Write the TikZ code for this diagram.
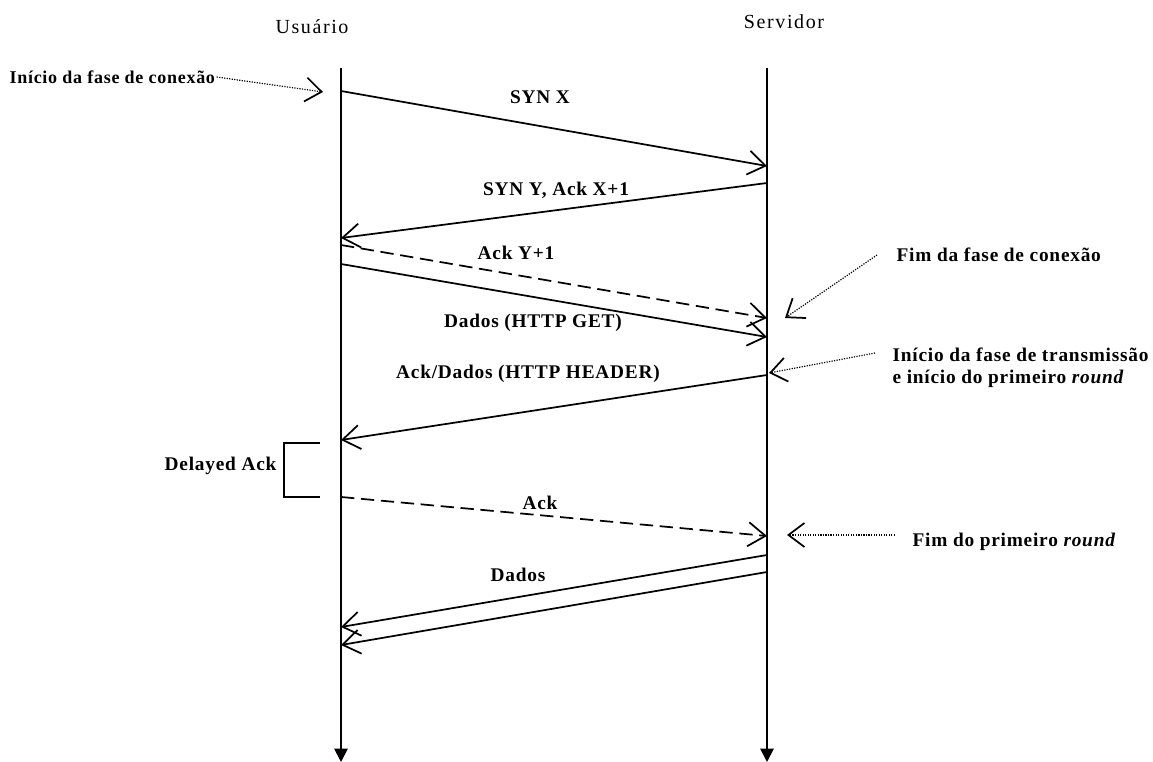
\documentclass[tikz,border=0pt]{standalone}
\usepackage{fontspec}
\setmainfont{Liberation Serif}
\newfontfamily\lblfont[LetterSpace=4]{Liberation Serif}
\newfontfamily\hdfont[LetterSpace=8]{Liberation Serif}
\usetikzlibrary{arrows.meta}

\begin{document}
\begin{tikzpicture}[
  x=0.75pt, y=-0.75pt,
  life/.style={line width=1.4pt, -{Triangle[length=10pt,width=10pt]}},
  msg/.style={line width=1.3pt, -{Straight Barb[length=13pt,width=18pt]}},
  ackmsg/.style={msg, dash pattern=on 10pt off 5pt},
  note/.style={line width=0.9pt, densely dotted,
               -{Straight Barb[length=12pt,width=18pt,line width=1.3pt]}},
  head/.style={font=\hdfont\fontsize{15}{18}\selectfont},
  lbl/.style={font=\lblfont\bfseries\fontsize{14.5}{17}\selectfont, inner sep=1pt},
  side/.style={lbl, align=left, anchor=west}
]
\useasboundingbox (0,0) rectangle (1153,762);

% lifelines
\node[head] (usr) at (312,27) {Usuário};
\node[head] (srv) at (784,22) {Servidor};
\coordinate (utop) at (341,68);
\coordinate (ubot) at (341,762);
\coordinate (stop) at (767,68);
\coordinate (sbot) at (767,762);
\draw[life] (utop) -- (ubot);
\draw[life] (stop) -- (sbot);

% message end points
\coordinate (u1) at (341,91);   \coordinate (s1) at (767,166);
\coordinate (s2) at (767,183);  \coordinate (u2) at (341,238);
\coordinate (u3) at (341,245);  \coordinate (s3) at (767,318);
\coordinate (u4) at (341,264);  \coordinate (s4) at (767,337);
\coordinate (s5) at (767,375);  \coordinate (u5) at (341,440);
\coordinate (u6) at (341,497);  \coordinate (s6) at (767,536);
\coordinate (s7) at (767,555);  \coordinate (u7) at (341,627);
\coordinate (s8) at (767,572);  \coordinate (u8) at (341,645);

\draw[msg] (u1) -- (s1);
\draw[msg] (s2) -- (u2);
\draw[ackmsg] (u3) -- (s3);
\draw[msg] (u4) -- (s4);
\draw[msg] (s5) -- (u5);
\draw[ackmsg] (u6) -- (s6);
\draw[msg] (s7) -- (u7);
\draw[msg] (s8) -- (u8);

\node[lbl] (m1) at (540,97) {SYN X};
\node[lbl] (m2) at (556,190) {SYN Y, Ack X+1};
\node[lbl] (m3) at (516,253) {Ack Y+1};
\node[lbl] (m4) at (533,323) {Dados (HTTP GET)};
\node[lbl] (m5) at (528,374) {Ack/Dados (HTTP HEADER)};
\node[lbl] (m6) at (540,503) {Ack};
\node[lbl] (m7) at (518,575) {Dados};

% delayed ack
\coordinate (d1) at (320,443);
\coordinate (d2) at (284,443);
\coordinate (d3) at (284,497);
\coordinate (d4) at (320,497);
\draw[line width=1.3pt] (d1) -- (d2) -- (d3) -- (d4);
\node[lbl, anchor=east] (dack) at (278,466) {Delayed Ack};

% notes
\node[lbl, anchor=west, font=\lblfont\bfseries\fontsize{13.5}{16}\selectfont]
  (n1) at (8,77) {Início da fase de conexão};
\coordinate (n1t) at (323,92);
\draw[note] (n1.east) -- (n1t);

\node[side] (n2) at (895,255) {Fim da fase de conexão};
\coordinate (n2a) at (877,255);
\coordinate (n2t) at (785,318);
\draw[note] (n2a) -- (n2t);

\node[side, anchor=north west] (n3) at (891,346)
  {Início da fase de transmissão\\e início do primeiro \textit{round}};
\coordinate (n3a) at (875,353);
\coordinate (n3t) at (769,373);
\draw[note] (n3a) -- (n3t);

\node[side] (n4) at (911,542) {Fim do primeiro \textit{round}};
\coordinate (n4a) at (895,535);
\coordinate (n4t) at (787,535);
\draw[note] (n4a) -- (n4t);
\end{tikzpicture}
\end{document}
